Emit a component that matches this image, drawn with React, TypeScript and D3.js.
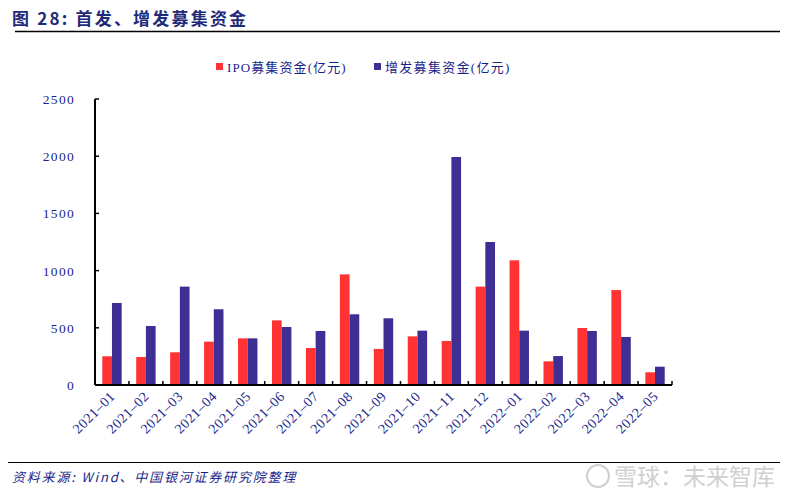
import React from "react";
import * as d3 from "d3";

const categories = ["2021-01","2021-02","2021-03","2021-04","2021-05","2021-06","2021-07","2021-08","2021-09","2021-10","2021-11","2021-12","2022-01","2022-02","2022-03","2022-04","2022-05"];
const ipoValues = [251, 245, 286, 379, 408, 565, 323, 967, 315, 425, 385, 860, 1090, 207, 498, 830, 111];
const addValues = [717, 516, 860, 662, 408, 507, 472, 618, 583, 475, 1993, 1250, 475, 253, 472, 420, 160];
const seriesNames = ["IPO募集资金(亿元)", "增发募集资金(亿元)"];
const yTicks = [0, 500, 1000, 1500, 2000, 2500];

const W = 800, H = 502;
const left = 95, right = 672, top = 99, bottom = 385;
const RED = "#FF3333", BLUE = "#3D2F93", NAVY = "#1B1F8A";
const SERIF = "'Liberation Serif', 'Times New Roman', 'Noto Sans CJK SC', serif";
const CJK = "'Noto Sans CJK SC', sans-serif";

export default function App() {
  const x = d3.scaleBand<string>().domain(categories).range([left, right]).paddingInner(0).paddingOuter(0);
  const inner = d3.scaleBand<string>().domain(["ipo", "add"]).range([0, x.bandwidth()]).paddingInner(0).paddingOuter(0.75);
  const y = d3.scaleLinear().domain([0, 2500]).range([bottom, top]);
  const series = [
    { key: "ipo", values: ipoValues, color: RED },
    { key: "add", values: addValues, color: BLUE },
  ];
  const boundaries = d3.range(categories.length + 1).map((i) => left + i * x.bandwidth());

  return (
    <svg width={W} height={H} style={{ position: "absolute", left: 0, top: 0, background: "#fff" }}>
      <text x={12} y={25} fontFamily={CJK} fontWeight="bold" fontSize={17} letterSpacing={2.2} fill="#1F2A78">图 28: 首发、增发募集资金</text>
      <line x1={15} x2={780} y1={31.5} y2={31.5} stroke="#000" strokeWidth={1.6} />

      {/* legend */}
      <rect x={216} y={63} width={7} height={7} fill={RED} />
      <text x={227} y={72} fontFamily={SERIF} fontSize={13} letterSpacing={1.1} fill={NAVY}>{seriesNames[0]}</text>
      <rect x={374} y={63} width={7} height={7} fill={BLUE} />
      <text x={385} y={72} fontFamily={SERIF} fontSize={13} letterSpacing={1.3} fill={NAVY}>{seriesNames[1]}</text>

      {/* bars */}
      {series.map((s) =>
        s.values.map((v, i) => (
          <rect key={s.key + i} x={(x(categories[i]) as number) + (inner(s.key) as number)} y={y(v)} width={inner.bandwidth()} height={bottom - y(v)} fill={s.color} />
        ))
      )}

      {/* y axis */}
      <line x1={left} x2={left} y1={top} y2={bottom} stroke="#000" strokeWidth={2} />
      {yTicks.map((t) => (
        <g key={t}>
          <line x1={left} x2={left + 4} y1={y(t)} y2={y(t)} stroke="#000" strokeWidth={1.5} />
          <text x={75} y={y(t) + 5} textAnchor="end" fontFamily={SERIF} fontSize={13.5} letterSpacing={1.3} fill={NAVY}>{t}</text>
        </g>
      ))}

      {/* x axis */}
      <line x1={left} x2={right} y1={bottom} y2={bottom} stroke="#000" strokeWidth={2} />
      {boundaries.map((b, i) => (
        <line key={i} x1={b} x2={b} y1={bottom} y2={bottom - 4} stroke="#000" strokeWidth={1.5} />
      ))}
      {categories.map((c) => {
        const cx = (x(c) as number) + x.bandwidth() / 2 + 4;
        return (
          <text key={c} transform={`translate(${cx},${bottom + 12}) rotate(-45)`} textAnchor="end" fontFamily={SERIF} fontSize={14} letterSpacing={0.6} fill={NAVY}>{c.replace("-", "–")}</text>
        );
      })}

      {/* footer */}
      <line x1={8} x2={780} y1={462.5} y2={462.5} stroke="#000" strokeWidth={1.2} />
      <text x={12} y={482} fontFamily={CJK} fontStyle="italic" fontSize={13} letterSpacing={1.8} fill={NAVY}>资料来源: Wind、中国银河证券研究院整理</text>
      <circle cx={598} cy={476} r={11} fill="none" stroke="#d0d0d0" strokeWidth={2} />
      <text x={614} y={485} fontFamily={CJK} fontSize={23} fill="#d0d0d0">雪球：未来智库</text>
    </svg>
  );
}
